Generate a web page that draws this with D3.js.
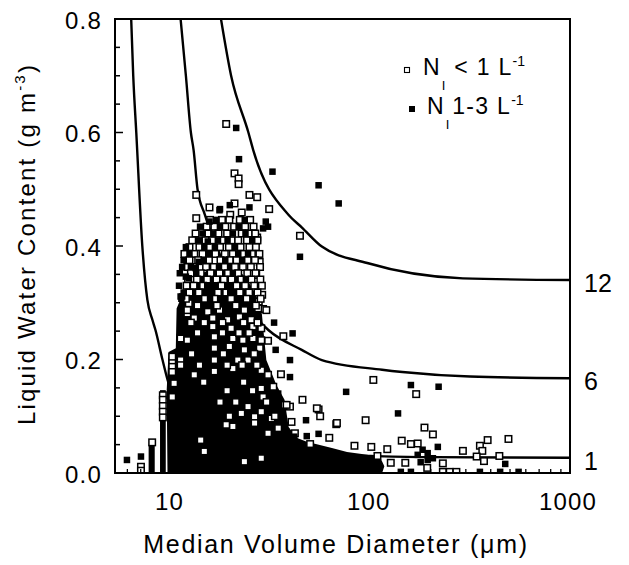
<!DOCTYPE html>
<html><head><meta charset="utf-8">
<script src="https://cdn.jsdelivr.net/npm/d3@7"></script>
<style>
body{margin:0;background:#fff}
text{font-family:"Liberation Sans",Arial,Helvetica,sans-serif;fill:#000}
</style>
</head><body>
<svg id="c" width="629" height="565"></svg>
<script>
// ---------------- data ----------------
const xTickValues = [10, 100, 1000];
const yTickValues = [0, 0.2, 0.4, 0.6, 0.8];
const curveLabels = ["1", "6", "12"];

const curve1D = [6.27, 6.42, 6.65, 7.13, 7.56, 8.01, 8.30, 9.01, 9.55, 12, 15, 20, 30, 50, 100, 200, 1000];
const curve1L = [0.8, 0.7, 0.6, 0.4, 0.305, 0.27, 0.252, 0.199, 0.164, 0.10, 0.07, 0.052, 0.040, 0.033, 0.030, 0.028, 0.027];
const curve6D = [11.1, 11.8, 12.5, 12.9, 13.5, 14.7, 18.8, 23.7, 30.6, 45, 56.8, 114, 144, 315, 1000];
const curve6L = [0.8, 0.7, 0.6, 0.569, 0.5, 0.455, 0.36, 0.295, 0.252, 0.217, 0.199, 0.182, 0.178, 0.170, 0.167];
const curve12D = [17.7, 19.9, 24.3, 25.7, 38.6, 45, 56.8, 96, 290, 1000];
const curve12L = [0.8, 0.7, 0.6, 0.569, 0.455, 0.433, 0.399, 0.370, 0.343, 0.340];

// saturated (overplotted) region of the scatter, outline in data units
const blobOutline = [[9.54,0],[9.45,0.146],[9.66,0.213],[10.5,0.22],[10.6,0.29],[11.5,0.32],[12.5,0.335],[14,0.35],[16,0.362],[18,0.372],[20,0.368],[22,0.356],[24,0.34],[26,0.32],[27.5,0.30],[28.4,0.28],[28.9,0.252],[29.9,0.199],[33.6,0.155],[36.9,0.129],[38.7,0.081],[42.4,0.062],[47.7,0.055],[63.8,0.044],[76,0.037],[96,0.032],[112,0.026],[117,0.012],[114,0]];
// stacked columns of filled squares at small diameters: [Dmin, Dmax, top LWC]
const columnBars = [[7.67, 8.23, 0.05], [8.75, 9.35, 0.146]];

// upper part of the dense cloud, read row by row: [LWC, open-square diameters, filled-square diameters]
const cloudRows = [
[0.446, [15.6, 17.9, 19.5, 22.0, 24.8], [16.8, 23.3]],
[0.434, [15.0, 16.4, 18.6, 20.6, 23.4, 25.8], [21.7, 17.5, 13.9]],
[0.422, [13.2, 15.3, 17.2, 19.0, 22.5, 24.4, 26.3], [20.3, 16.2, 23.5, 14.3]],
[0.410, [12.7, 14.8, 16.0, 18.2, 20.0, 21.6, 23.9, 27.0], [13.7, 17.1, 25.4, 19.1]],
[0.398, [12.3, 13.8, 15.5, 17.5, 19.4, 22.2, 24.6, 26.5], [11.8, 14.6, 20.8, 16.5]],
[0.386, [11.6, 13.0, 14.3, 16.6, 18.5, 20.3, 23.0, 25.3, 27.6], [12.3, 21.6, 15.4, 24.2]],
[0.375, [12.3, 13.6, 15.4, 17.6, 19.6, 21.2, 24.1, 26.2], [11.5, 14.5, 22.6, 18.6]],
[0.363, [12.0, 13.1, 14.9, 16.3, 18.4, 20.8, 22.8, 25.0, 27.8], [11.3, 17.3]],
[0.352, [12.5, 14.0, 15.7, 17.4, 19.2, 21.6, 24.0, 26.4], [11.0, 13.3, 20.3]],
[0.341, [12.1, 13.4, 15.1, 16.8, 18.3, 20.0, 22.4, 25.2, 27.9], [23.6]],
[0.330, [11.9, 12.9, 14.4, 17.8, 21.2, 23.4, 26.0, 28.4], [15.1, 10.9]],
[0.318, [12.3, 13.7, 17.1, 18.8, 22.0, 24.5, 27.0], [11.5, 19.7]],
[0.307, [11.8, 14.7, 16.4, 19.9, 23.8, 28.0], [11.2, 15.6]],
[0.295, [13.5, 16.9, 21.0, 26.5], []],
[0.265, [12.5, 14.6, 18.0, 23.0, 27.0], []],
[0.247, [13.5, 18.0, 21.8, 24.5], []],
[0.210, [12.6, 18.2, 26.0], []],
[0.190, [13.8, 19.0, 22.6, 26.8], []],
[0.160, [14.5, 23.0], []],
[0.145, [19.0, 25.5], []],
[0.125, [17.5, 21.0, 30.0], []],
[0.100, [33.0, 19.5], []]
];

const openSquares = [
[18.8,0.615],[20.7,0.528],[21.7,0.519],[21.7,0.509],[13.3,0.490],[24.6,0.490],[26.9,0.486],[13.3,0.449],[15.5,0.468],[20.7,0.475],
[22.5,0.459],[30.9,0.465],[26.9,0.415],[26.6,0.409],[44.1,0.418],[19.7,0.455],[18.4,0.443],[27.7,0.372],[26.6,0.349],[28.5,0.314],
[27.4,0.302],[28.8,0.289],[36.4,0.241],[30.5,0.233],[35.4,0.174],[103,0.164],[45.4,0.129],[54.7,0.112],[55.7,0.100],[40.0,0.090],
[67.1,0.086],[94.2,0.093],[49.6,0.051],[61.9,0.062],[82.8,0.048],[100.6,0.046],[108,0.030],[169,0.139],[186,0.080],[205,0.068],
[121,0.042],[143,0.057],[159,0.051],[172,0.052],[126,0.018],[149,0.018],[192,0.009],[230,0.017],[290,0.039],[353,0.048],
[386,0.058],[363,0.039],[340,0.029],[370,0.021],[442,0.030],[491,0.060],[230,0.002],[249,0.002],[269,0.002],[37.0,0.120],
[39.3,0.117],[67.6,0.088],[41.6,0.070],[53.6,0.114],
[7.99,0.054],[9.04,0.137],[9.04,0.129],[9.04,0.118],[9.04,0.108],[9.04,0.098],[7.02,0.011],[7.02,0.004],
[10.08,0.196],[10.08,0.187],[10.08,0.178],[10.08,0.134],[11.1,0.199],[11.1,0.190],[11.1,0.238],[12.2,0.299],[12.0,0.281],
[12.0,0.287],[15.2,0.284],[17.4,0.287],[23.2,0.287],[27.2,0.290],[29.9,0.287],
[13.0,0.273],[16.1,0.273],[19.1,0.270],[21.9,0.275],[25.1,0.270],
[16.1,0.258],[19.9,0.255],[25.6,0.258],[28.2,0.255],
[11.1,0.237],[12.0,0.234],[16.4,0.240],[20.3,0.237],[22.8,0.234],[25.6,0.237],[28.2,0.234],
[16.4,0.220],[19.5,0.223],[23.2,0.217],[27.7,0.220],
[10.08,0.205],[16.4,0.199],[21.5,0.199],[24.2,0.199],
[16.4,0.179],[20.3,0.184],[28.2,0.181],[30.5,0.173],
[10.3,0.158],[28.2,0.149],[32.4,0.152],[28.8,0.134],[37.8,0.120],
[24.2,0.117],[22.4,0.105],[26.1,0.099],[28.2,0.108],[31.7,0.096],
[20.3,0.082],[26.1,0.088],[30.5,0.070],[34.3,0.079],
[14.6,0.038],[23.2,0.020],[28.2,0.026],[13.0,0.173],[18.8,0.085],[14.0,0.058]
];

const filledSquares = [
[21.1,0.608],[21.8,0.553],[32.1,0.531],[54.7,0.507],[69.0,0.475],[17.5,0.465],[19.6,0.472],[24.6,0.468],[29.7,0.443],[30.5,0.434],
[28.8,0.431],[44.1,0.381],[15.5,0.443],[32.7,0.265],[40.5,0.246],[33.3,0.217],[39.3,0.199],[39.3,0.169],[75.2,0.143],[47.3,0.093],
[41.3,0.064],[47.7,0.065],[54.7,0.069],[159,0.155],[219,0.152],[137,0.105],[172,0.032],[193,0.035],[217,0.046],[193,0.023],
[182,0.041],[205,0.026],[178,0.019],[473,0.016],
[87.1,0.002],[101.8,0.002],[141.5,0.002],[159,0.002],[353,0.002],[446,0.002],[552,0.002],
[34.3,0.140],[11.3,0.311],[12.2,0.343],[13.7,0.372],[13.2,0.361],[15.2,0.408],[17.4,0.463],
[11.1,0.311],[11.8,0.346],[12.5,0.364],
[5.97,0.023],[7.02,0.029]
];

const legendItems = [
  {filled:false, main:"< 1 L", sup:"-1"},
  {filled:true,  main:"1-3 L", sup:"-1"}
];

// ---------------- chart ----------------
const svg = d3.select("#c");
const L = 115, R = 570, T = 19, B = 473;
const x = d3.scaleLog().domain([5.2, 1000]).range([L, R]);
const y = d3.scaleLinear().domain([0, 0.8]).range([B, T]);

svg.append("defs").append("clipPath").attr("id","plot")
  .append("rect").attr("x",L).attr("y",T).attr("width",R-L).attr("height",B-T);

const g = svg.append("g").attr("clip-path","url(#plot)");

// curves
const curves = [[curve1D,curve1L],[curve6D,curve6L],[curve12D,curve12L]];
const line = d3.line().x(d=>x(d[0])).y(d=>y(d[1])).curve(d3.curveMonotoneX);
curves.forEach(([ds,ls])=>{
  g.append("path").datum(ds.map((d,i)=>[d,ls[i]]))
   .attr("d",line).attr("fill","none").attr("stroke","#000").attr("stroke-width",2.4);
});

// saturated region
const poly = d3.line().x(d=>x(d[0])).y(d=>y(d[1]));
g.append("path").datum(blobOutline).attr("d", d=>poly(d)+"Z").attr("fill","#000");
g.selectAll("rect.bar").data(columnBars).join("rect").attr("class","bar")
  .attr("x",d=>x(d[0])).attr("width",d=>x(d[1])-x(d[0]))
  .attr("y",d=>y(d[2])).attr("height",d=>y(0)-y(d[2])).attr("fill","#000");

const cloudOpen = [], cloudFilled = [];
cloudRows.forEach(([lw, os, fs]) => {
  os.forEach(d => cloudOpen.push([d, lw]));
  fs.forEach(d => cloudFilled.push([d, lw]));
});
const allOpen = openSquares.concat(cloudOpen);
const allFilled = filledSquares.concat(cloudFilled);

const s = 6.5;
g.selectAll("rect.op").data(allOpen).join("rect").attr("class","op")
  .attr("x",d=>x(d[0])-s/2).attr("y",d=>y(d[1])-s/2).attr("width",s).attr("height",s)
  .attr("fill","#fff").attr("stroke","#000").attr("stroke-width",1.5);
const fsz = 6.5;
g.selectAll("rect.fi").data(allFilled).join("rect").attr("class","fi")
  .attr("x",d=>x(d[0])-fsz/2).attr("y",d=>y(d[1])-fsz/2).attr("width",fsz).attr("height",fsz)
  .attr("fill","#000");

// frame
svg.append("rect").attr("x",L).attr("y",T).attr("width",R-L).attr("height",B-T)
  .attr("fill","none").attr("stroke","#000").attr("stroke-width",2);

// y ticks (inward)
const yAll = d3.range(0, 0.8001, 0.05);
svg.selectAll("line.yt").data(yAll).join("line")
  .attr("x1",L).attr("x2",(d)=> L + (Math.abs(d*5-Math.round(d*5))<1e-6 ? 8 : 5))
  .attr("y1",d=>y(d)).attr("y2",d=>y(d)).attr("stroke","#000").attr("stroke-width",1.5);
svg.selectAll("text.yl").data(yTickValues).join("text")
  .attr("x",102).attr("y",d=>y(d)+9.5).attr("text-anchor","end")
  .attr("font-size",24).attr("letter-spacing","1.2px").text(d=>d3.format(".1f")(d));

// x ticks (inward, log minors)
const xAll = [];
[1,10,100].forEach(dec=>{ for(let k=1;k<10;k++){ const v=dec*k; if(v>=5.2 && v<=1000) xAll.push(v);} });
xAll.push(1000);
svg.selectAll("line.xt").data(xAll).join("line")
  .attr("x1",d=>x(d)).attr("x2",d=>x(d))
  .attr("y1",B).attr("y2",d=> B - (xTickValues.includes(d)?7:4))
  .attr("stroke","#000").attr("stroke-width",1.3);
svg.selectAll("text.xl").data(xTickValues).join("text")
  .attr("x",d=>x(d)-2).attr("y",510).attr("text-anchor","middle")
  .attr("font-size",24).attr("letter-spacing","1.2px").text(d=>d);

// curve labels
curves.forEach(([ds,ls],i)=>{
  svg.append("text").attr("x",x(1000)+14).attr("y",y(ls[ls.length-1])+12)
    .attr("font-size",25).text(curveLabels[i]);
});

// axis titles
svg.append("text").attr("x",336).attr("y",553).attr("text-anchor","middle")
  .attr("font-size",25).attr("letter-spacing","1.7px")
  .text("Median Volume Diameter (\u03BCm)");
const yt = svg.append("text").attr("transform","translate(35,244) rotate(-90)")
  .attr("text-anchor","middle").attr("font-size",24).attr("letter-spacing","2.2px");
yt.append("tspan").text("Liquid Water Content (g m");
yt.append("tspan").attr("font-size",15).attr("dy",-10).text("-3");
yt.append("tspan").attr("dy",10).text(")");

// legend
legendItems.forEach((it,i)=>{
  const cy = i===0 ? 70 : 109;
  const sx = i===0 ? 407 : 412;
  const tx = i===0 ? 423 : 427;
  const base = cy + 5;
  if(it.filled){
    svg.append("rect").attr("x",sx-3).attr("y",cy-3).attr("width",6).attr("height",6).attr("fill","#000");
  } else {
    svg.append("rect").attr("x",sx-2.5).attr("y",cy-2.5).attr("width",5).attr("height",5)
      .attr("fill","#fff").attr("stroke","#000").attr("stroke-width",1.1);
  }
  const t = svg.append("text").attr("x",tx).attr("y",base).attr("font-size",23);
  t.append("tspan").text("N");
  t.append("tspan").attr("font-size",13).attr("dx",2).attr("dy",15).text("I");
  t.append("tspan").attr("dx",i===0?9:3).attr("dy",-15).attr("letter-spacing","1.3px").text(it.main);
  t.append("tspan").attr("font-size",14).attr("dx",0).attr("dy",-9).text(it.sup);
});
</script>
</body></html>
